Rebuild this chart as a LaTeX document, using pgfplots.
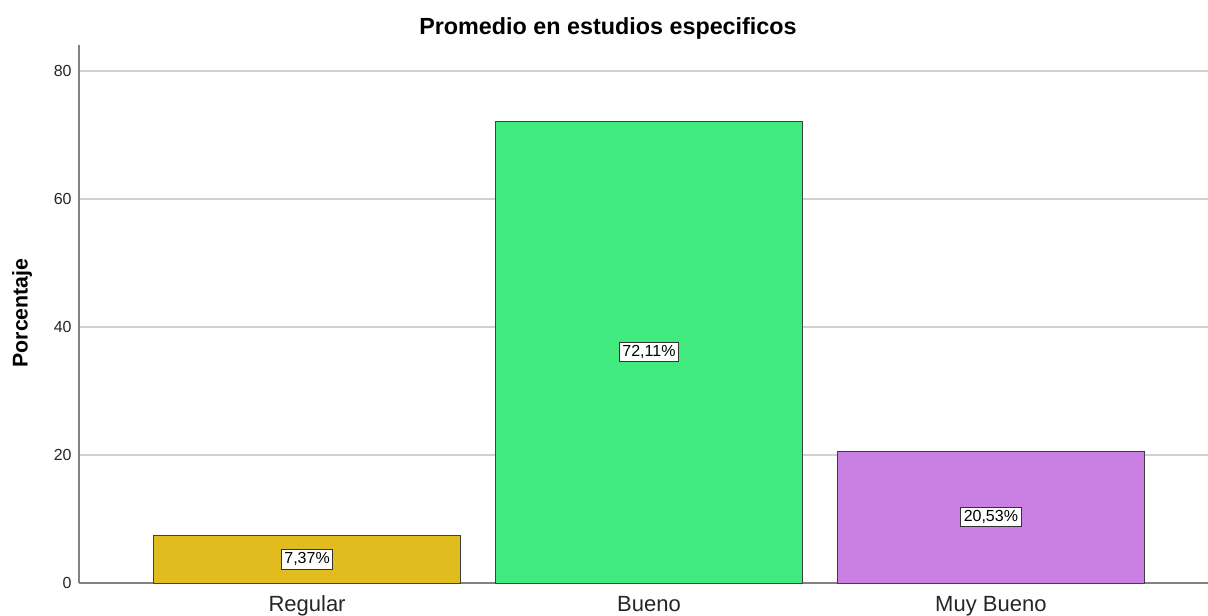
\documentclass[border=0pt]{standalone}
\usepackage{pgfplots}
\pgfplotsset{compat=1.18}
\usepackage{fontspec}
\setmainfont{Liberation Sans}
\definecolor{cReg}{RGB}{225,188,31}
\definecolor{cBue}{RGB}{65,234,127}
\definecolor{cMuy}{RGB}{202,127,227}
\definecolor{axgray}{RGB}{130,130,130}
\definecolor{gridgray}{RGB}{208,208,208}
\begin{document}
\begin{tikzpicture}
\useasboundingbox (-59.25pt,-24pt) rectangle (846.75pt,437.25pt);
\begin{axis}[
  at={(0,0)}, anchor=south west,
  scale only axis, width=846.75pt, height=403.5pt,
  xmin=-0.667, xmax=2.635, ymin=0, ymax=84.06,
  axis x line*=bottom, axis y line*=left,
  axis line style={draw=axgray, line width=1pt, -},
  ymajorgrids, grid style={draw=gridgray, line width=1pt},
  major tick length=0pt,
  xtick={0,1,2}, xticklabels={Regular,Bueno,Muy Bueno},
  ytick={0,20,40,60,80},
  /pgf/number format/assume math mode=true,
  xticklabel style={font=\fontsize{16.5pt}{18pt}\selectfont, anchor=base, yshift=-21.5pt, text=black!85},
  yticklabel style={font=\fontsize{12pt}{14pt}\selectfont, anchor=east, xshift=-2pt, text=black!85},
  clip=false,
]
\addplot[ybar, bar width=0.9, bar shift=0pt, fill=cReg, draw=black!75, line width=0.75pt] coordinates {(0,7.37)};
\addplot[ybar, bar width=0.9, bar shift=0pt, fill=cBue, draw=black!75, line width=0.75pt] coordinates {(1,72.11)};
\addplot[ybar, bar width=0.9, bar shift=0pt, fill=cMuy, draw=black!75, line width=0.75pt] coordinates {(2,20.53)};
\addplot[only marks, mark=none, point meta=explicit symbolic,
  nodes near coords,
  every node near coord/.append style={anchor=center, draw=black!80, fill=white, line width=0.75pt, inner sep=2.25pt, font=\fontsize{12pt}{14pt}\selectfont, text=black}]
  coordinates {(0,3.685)[7,37\%] (1,36.055)[72,11\%] (2,10.265)[20,53\%]};
\end{axis}
\node[font=\fontsize{17.5pt}{20pt}\selectfont\bfseries] at (396.75pt,416.25pt) {Promedio en estudios especificos};
\node[font=\fontsize{16pt}{18pt}\selectfont\bfseries, rotate=90] at (-42.75pt,202.5pt) {Porcentaje};
\end{tikzpicture}
\end{document}
